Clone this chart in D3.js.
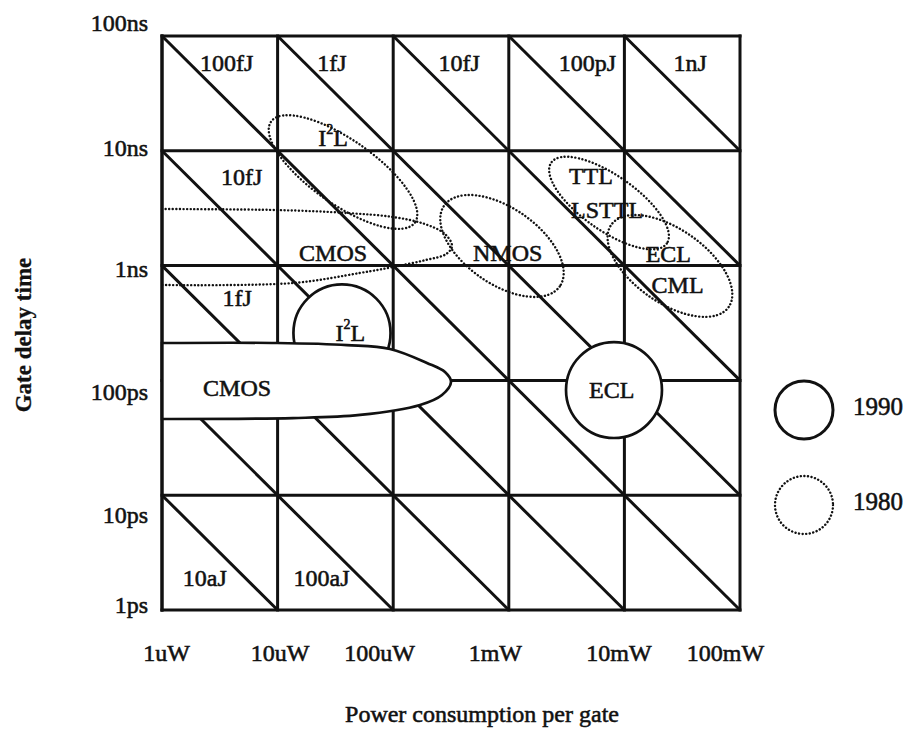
<!DOCTYPE html>
<html>
<head>
<meta charset="utf-8">
<script src="https://cdn.jsdelivr.net/npm/d3@7"></script>
<style>
  html, body { margin: 0; padding: 0; background: #fff; }
  svg { display: block; }
  text { font-family: "Liberation Serif", "Times New Roman", "DejaVu Serif", serif; fill: #111; stroke: #111; stroke-width: 0.55px; }
</style>
</head>
<body>
<svg id="chart" width="910" height="729"></svg>
<script>
// ---------------- DATA ----------------
// axis decades (log10 of value in W / s)
const powerExp = [-6, -5, -4, -3, -2, -1];
const powerLabels = ["1uW", "10uW", "100uW", "1mW", "10mW", "100mW"];
const delayExp = [-7, -8, -9, -10, -11, -12];
const delayLabels = ["100ns", "10ns", "1ns", "100ps", "10ps", "1ps"];

// constant-energy diagonals (log10 of P*t, in J)
const energyExp = [-17, -16, -15, -14, -13, -12, -11, -10, -9];

// energy annotations: text, log10 P, log10 t
const energyText = ["100fJ", "1fJ", "10fJ", "100pJ", "1nJ", "10fJ", "1fJ", "10aJ", "100aJ"];
const energyP = [-5.44, -4.53, -3.43, -2.32, -1.43, -5.31, -5.35, -5.63, -4.62];
const energyT = [-7.235, -7.235, -7.235, -7.235, -7.235, -8.23, -9.28, -11.72, -11.72];

// 1980 technology regions (dotted ellipses): centre log P, log t, radii in decades, tilt deg
const tech1980Names = ["I2L", "NMOS", "TTL/LSTTL", "ECL/CML"];
const tech1980P = [-4.434, -3.059, -2.133, -1.606];
const tech1980T = [-8.185, -8.829, -8.455, -9.003];
const tech1980Rx = [0.76, 0.61, 0.61, 0.62];
const tech1980Ry = [0.28, 0.33, 0.24, 0.32];
const tech1980Tilt = [35, 35, 35, 35];

// 1980 CMOS region outline (log P, log t)
const cmos1980P = [-6, -5.005, -4.40, -4.00, -3.726, -3.552, -3.491, -3.543, -3.726, -4.00, -4.287, -4.867, -6];
const cmos1980T = [-8.507, -8.516, -8.542, -8.577, -8.638, -8.725, -8.830, -8.900, -8.953, -9.012, -9.064, -9.152, -9.169];

// 1990 technology regions (solid circles): centre log P, log t, radius in decades
const tech1990Names = ["I2L", "ECL"];
const tech1990P = [-4.443, -2.09];
const tech1990T = [-9.587, -10.084];
const tech1990R = [0.42, 0.415];

// 1990 CMOS region outline (log P, log t)
const cmos1990P = [-6, -5.005, -4.40, -4.028, -3.708, -3.552, -3.50, -3.578, -3.768, -4.287, -4.867, -6];
const cmos1990T = [-9.674, -9.674, -9.692, -9.726, -9.848, -9.927, -10.014, -10.127, -10.214, -10.301, -10.328, -10.336];

// technology labels: text, log P, log t
const techText = ["I²L", "CMOS", "NMOS", "TTL", "LSTTL", "ECL", "CML", "I²L", "CMOS", "ECL"];
const techP = [-4.52, -4.52, -3.01, -2.29, -2.15, -1.62, -1.54, -4.37, -5.35, -2.11];
const techT = [-7.89, -8.89, -8.89, -8.22, -8.52, -8.90, -9.17, -9.59, -10.07, -10.08];

const legendItems = ["1990", "1980"];

// ---------------- LAYOUT ----------------
const svg = d3.select("#chart");
const plotL = 162, plotR = 740, plotT = 36, plotB = 610;
const x = d3.scaleLog().domain([1e-6, 1e-1]).range([plotL, plotR]);
const y = d3.scaleLog().domain([1e-7, 1e-12]).range([plotT, plotB]);
const px = e => x(Math.pow(10, e));
const py = e => y(Math.pow(10, e));
const decX = px(-5) - px(-6);
const decY = py(-8) - py(-7);

const ink = "#111";
const gridW = 3;
const dotDash = "0.1,3.5";
const dotW = 2.4;

const g = svg.append("g");

// grid lines
g.selectAll("line.v").data(powerExp).join("line").attr("class", "v")
  .attr("x1", d => px(d)).attr("x2", d => px(d))
  .attr("y1", plotT).attr("y2", plotB)
  .attr("stroke", ink).attr("stroke-width", gridW).attr("stroke-linecap", "square");
g.selectAll("line.h").data(delayExp).join("line").attr("class", "h")
  .attr("y1", d => py(d)).attr("y2", d => py(d))
  .attr("x1", plotL).attr("x2", plotR)
  .attr("stroke", ink).attr("stroke-width", gridW).attr("stroke-linecap", "square");

// constant-energy diagonals
const pMin = -6, pMax = -1, tMax = -7, tMin = -12;
g.selectAll("line.e").data(energyExp).join("line").attr("class", "e")
  .each(function(E) {
    const p0 = Math.max(pMin, E - tMax), p1 = Math.min(pMax, E - tMin);
    d3.select(this)
      .attr("x1", px(p0)).attr("y1", py(E - p0))
      .attr("x2", px(p1)).attr("y2", py(E - p1));
  })
  .attr("stroke", ink).attr("stroke-width", gridW);

// 1980 ellipses (dotted)
const dots = svg.append("g").attr("fill", "none").attr("stroke", ink)
  .attr("stroke-width", dotW).attr("stroke-dasharray", dotDash).attr("stroke-linecap", "round");
dots.selectAll("ellipse").data(tech1980Names).join("ellipse")
  .attr("cx", 0).attr("cy", 0)
  .attr("rx", (d, i) => tech1980Rx[i] * decX)
  .attr("ry", (d, i) => tech1980Ry[i] * decY)
  .attr("transform", (d, i) => `translate(${px(tech1980P[i])},${py(tech1980T[i])}) rotate(${tech1980Tilt[i]})`);

const outline = d3.line().x(d => px(d[0])).y(d => py(d[1])).curve(d3.curveCatmullRom.alpha(0.5));
dots.append("path")
  .attr("d", outline(cmos1980P.map((p, i) => [p, cmos1980T[i]])));

// 1990 regions (solid, white filled)
const solid = svg.append("g").attr("fill", "#fff").attr("stroke", ink).attr("stroke-width", 2.7);
solid.selectAll("circle").data(tech1990Names).join("circle")
  .attr("cx", (d, i) => px(tech1990P[i]))
  .attr("cy", (d, i) => py(tech1990T[i]))
  .attr("r", (d, i) => tech1990R[i] * decX);
solid.append("path")
  .attr("d", outline(cmos1990P.map((p, i) => [p, cmos1990T[i]])) + "Z");
// re-draw left border over the CMOS shape
svg.append("line").attr("x1", plotL).attr("x2", plotL).attr("y1", plotT).attr("y2", plotB)
  .attr("stroke", ink).attr("stroke-width", gridW).attr("stroke-linecap", "square");

// labels
const fs = 24;
svg.append("g").selectAll("text").data(energyText).join("text")
  .attr("x", (d, i) => px(energyP[i])).attr("y", (d, i) => py(energyT[i]))
  .attr("text-anchor", "middle").attr("dominant-baseline", "central")
  .attr("font-size", fs).text(d => d);

const tl = svg.append("g").selectAll("text").data(techText).join("text")
  .attr("x", (d, i) => px(techP[i])).attr("y", (d, i) => py(techT[i]))
  .attr("text-anchor", "middle").attr("dominant-baseline", "central")
  .attr("font-size", fs);
tl.each(function(d) {
  const t = d3.select(this);
  if (d === "I²L") {
    t.append("tspan").text("I");
    t.append("tspan").text("2").attr("font-size", 14).attr("dy", -9);
    t.append("tspan").text("L").attr("dy", 9);
  } else t.text(d);
});

// axes (labels only)
const xOff = [4, 2, -14, -14, -6, -15];
const xAxis = d3.axisBottom(x).tickValues(powerExp.map(e => Math.pow(10, e)))
  .tickFormat((d, i) => powerLabels[i]).tickSize(0);
const xa = svg.append("g").attr("transform", `translate(0,${plotB})`).call(xAxis);
xa.attr("font-family", null);
xa.select(".domain").remove();
xa.selectAll("text").attr("y", 51).attr("dy", 0).attr("dx", (d, i) => xOff[i])
  .attr("font-size", fs).attr("fill", ink);

const yOff = [-6, 5, 11, 19, 27, 2];
const yAxis = d3.axisLeft(y).tickValues(delayExp.map(e => Math.pow(10, e)))
  .tickFormat((d, i) => delayLabels[i]).tickSize(0);
const ya = svg.append("g").attr("transform", `translate(${plotL},0)`).call(yAxis);
ya.attr("font-family", null);
ya.select(".domain").remove();
ya.selectAll("text").attr("x", -14).attr("dy", 0).attr("y", (d, i) => yOff[i])
  .attr("font-size", fs).attr("fill", ink);

// axis titles
svg.append("text").attr("x", 482).attr("y", 722).attr("text-anchor", "middle")
  .attr("font-size", 24).text("Power consumption per gate");
svg.append("text").attr("transform", "translate(31,335) rotate(-90)").attr("text-anchor", "middle")
  .attr("font-size", 23).attr("font-weight", "bold").style("stroke-width", "0.3px").text("Gate delay time");

// legend
const lg = svg.append("g");
legendItems.forEach((name, i) => {
  const cy = i === 0 ? 410 : 505;
  lg.append("circle").attr("cx", 804).attr("cy", cy).attr("r", 29)
    .attr("fill", "none").attr("stroke", ink)
    .attr("stroke-width", i === 0 ? 3 : dotW)
    .attr("stroke-dasharray", i === 0 ? null : dotDash)
    .attr("stroke-linecap", "round");
  lg.append("text").attr("x", 853).attr("y", cy - 4).attr("dominant-baseline", "central")
    .attr("font-size", 25).text(name);
});
</script>
</body>
</html>
